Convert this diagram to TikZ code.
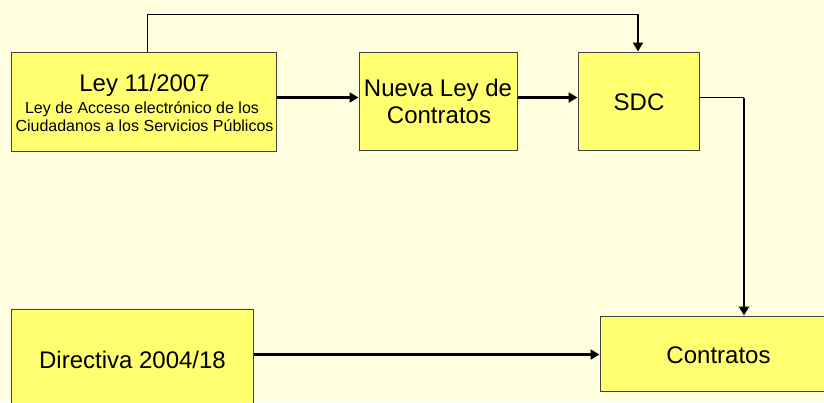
\documentclass[tikz,border=0pt]{standalone}
\usepackage{fontspec}
\setmainfont{Liberation Sans}
\usetikzlibrary{arrows.meta}
\definecolor{bgc}{RGB}{255,255,224}
\definecolor{boxc}{RGB}{255,255,112}
\definecolor{edgec}{RGB}{64,64,64}
\begin{document}
\begin{tikzpicture}[x=1pt,y=-1pt,
  box/.style={draw=edgec,line width=1pt,fill=boxc,inner sep=0pt},
  bigtxt/.style={anchor=base,inner sep=0pt,font=\fontsize{24}{28}\selectfont},
  smalltxt/.style={anchor=base,inner sep=0pt,font=\fontsize{16}{19}\selectfont},
  thinln/.style={line width=1pt,black},
  thickln/.style={line width=2.2pt,black},
  arr/.style={thickln,-{Triangle[length=9pt,width=10pt]}}]
\useasboundingbox (0,0) rectangle (824,402);
\clip (0,0) rectangle (824,402);
\fill[bgc] (0,0) rectangle (824,402);
% boxes
\node[box,minimum width=265pt,minimum height=99pt] (ley) at (143.5,101.5) {};
\node[box,minimum width=158pt,minimum height=98pt] (nueva) at (438,101) {};
\node[box,minimum width=121pt,minimum height=98pt] (sdc) at (638.5,101) {};
\node[box,minimum width=237pt,minimum height=75pt] (contratos) at (718.5,353.5) {};
\node[box,minimum width=242pt,minimum height=102pt] (dir) at (132,360) {};
% texts
\node[bigtxt] (leyt) at (144.5,91) {Ley 11/2007};
\node[smalltxt] (leys1) at (142,113.3) {Ley de Acceso electrónico de los};
\node[smalltxt] (leys2) at (144.5,131.7) {Ciudadanos a los Servicios Públicos};
\node[bigtxt] (nuevat1) at (438,96) {Nueva Ley de};
\node[bigtxt] (nuevat2) at (439,123) {Contratos};
\node[bigtxt] (sdct) at (639,110.7) {SDC};
\node[bigtxt] (contt) at (718.5,363.3) {Contratos};
\node[bigtxt] (dirt) at (132.5,368.3) {Directiva 2004/18};
% connectors
\coordinate (r1) at (0,97.5);
\draw[arr] (ley.east |- r1) -- (nueva.west |- r1);
\draw[arr] (nueva.east |- r1) -- (sdc.west |- r1);
\coordinate (tl) at (147,14);
\coordinate (tr) at (638,14);
\draw[thinln] (ley.north -| tl) -- (tl) -- (tr);
\draw[arr] (tr) -- (sdc.north -| tr);
\coordinate (rr) at (744,97.5);
\draw[thinln] (sdc.east |- rr) -- (rr);
\draw[arr] (rr) -- (contratos.north -| rr);
\coordinate (r3) at (0,354.5);
\draw[arr] (dir.east |- r3) -- (contratos.west |- r3);
\end{tikzpicture}
\end{document}
